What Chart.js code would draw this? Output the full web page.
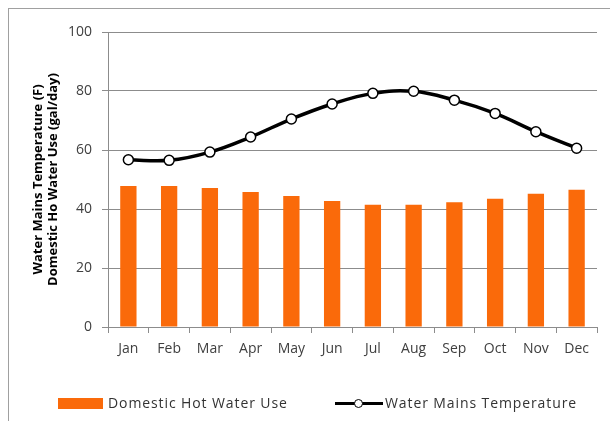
<!DOCTYPE html>
<html>
<head>
<meta charset="utf-8">
<script src="https://cdn.jsdelivr.net/npm/chart.js@4"></script>
<style>
  html, body { margin: 0; padding: 0; background: #fff; }
  #wrap { position: relative; width: 610px; height: 421px; overflow: hidden; font-family: 'Open Sans', sans-serif; }
  #frame { position: absolute; left: 8px; top: 8px; width: 640px; height: 440px; border-left: 1px solid #a0a0a0; border-top: 1px solid #a0a0a0; }
  #myChart { position: absolute; left: 0; top: 0; }
  .legend-item { position: absolute; top: 394px; font-size: 14px; letter-spacing: 0.9px; color: #333; display: flex; align-items: center; line-height: 18px; }
  .swatch { width: 45px; height: 11px; background: #fa6a0a; margin-right: 5px; }
  .line-mark { position: relative; width: 48px; height: 11px; margin-right: 2px; }
  .line-mark:before { content: ''; position: absolute; left: 0; right: 0; top: 4px; height: 3px; background: #000; }
  .line-mark:after { content: ''; position: absolute; left: 19px; top: 1px; width: 7px; height: 7px; border: 1.5px solid #000; border-radius: 50%; background: #fff; }
</style>
</head>
<body>
<div id="wrap">
  <div id="frame"></div>
  <canvas id="myChart" width="610" height="421"></canvas>
  <div class="legend-item" style="left:58px"><span class="swatch"></span>Domestic Hot Water Use</div>
  <div class="legend-item" style="left:335px"><span class="line-mark"></span>Water Mains Temperature</div>
</div>
<script>
// Data
const months = ['Jan', 'Feb', 'Mar', 'Apr', 'May', 'Jun', 'Jul', 'Aug', 'Sep', 'Oct', 'Nov', 'Dec'];
const hotWaterUse = [47.8, 47.8, 47.1, 45.8, 44.4, 42.7, 41.4, 41.4, 42.3, 43.5, 45.2, 46.5];
const mainsTemp = [56.7, 56.5, 59.3, 64.4, 70.5, 75.6, 79.2, 79.9, 76.9, 72.4, 66.2, 60.6];
const yTicks = [0, 20, 40, 60, 80, 100];

const gridColor = '#8c8c8c';
const textColor = '#404040';

const ctx = document.getElementById('myChart').getContext('2d');
const chart = new Chart(ctx, {
  type: 'bar',
  data: {
    labels: months,
    datasets: [
      {
        type: 'line',
        label: 'Water Mains Temperature',
        data: mainsTemp,
        borderColor: '#000',
        borderWidth: 3.5,
        tension: 0.4,
        pointRadius: 5,
        pointBackgroundColor: '#fff',
        pointBorderColor: '#000',
        pointBorderWidth: 1.5,
        order: 0
      },
      {
        type: 'bar',
        label: 'Domestic Hot Water Use',
        data: hotWaterUse,
        backgroundColor: '#fa6a0a',
        barPercentage: 0.4,
        categoryPercentage: 1,
        order: 1
      }
    ]
  },
  options: {
    responsive: false,
    animation: false,
    layout: { padding: { left: 30, right: 13, top: 32, bottom: 0 } },
    plugins: {
      legend: { display: false },
      tooltip: { enabled: false }
    },
    scales: {
      x: {
        grid: { offset: true, drawOnChartArea: false, drawTicks: true, tickLength: 6, color: gridColor },
        border: { color: gridColor },
        ticks: { color: textColor, font: { family: 'Open Sans', size: 14 }, padding: 8 },
        afterFit: (scale) => { scale.height = 94; }
      },
      y: {
        min: 0,
        max: 100,
        afterBuildTicks: (scale) => { scale.ticks = yTicks.map(v => ({ value: v })); },
        grid: { color: gridColor, tickLength: 6 },
        border: { color: gridColor },
        ticks: { color: textColor, font: { family: 'Open Sans', size: 14 }, padding: 10 },
        title: {
          display: true,
          text: ['Water Mains Temperature (F)', 'Domestic Ho Water Use (gal/day)'],
          color: '#000',
          font: { family: 'Open Sans', size: 13, weight: 'bold' },
          padding: { top: 0, bottom: 4 }
        },
        afterFit: (scale) => { scale.width = 78; }
      }
    }
  }
});
</script>
</body>
</html>
